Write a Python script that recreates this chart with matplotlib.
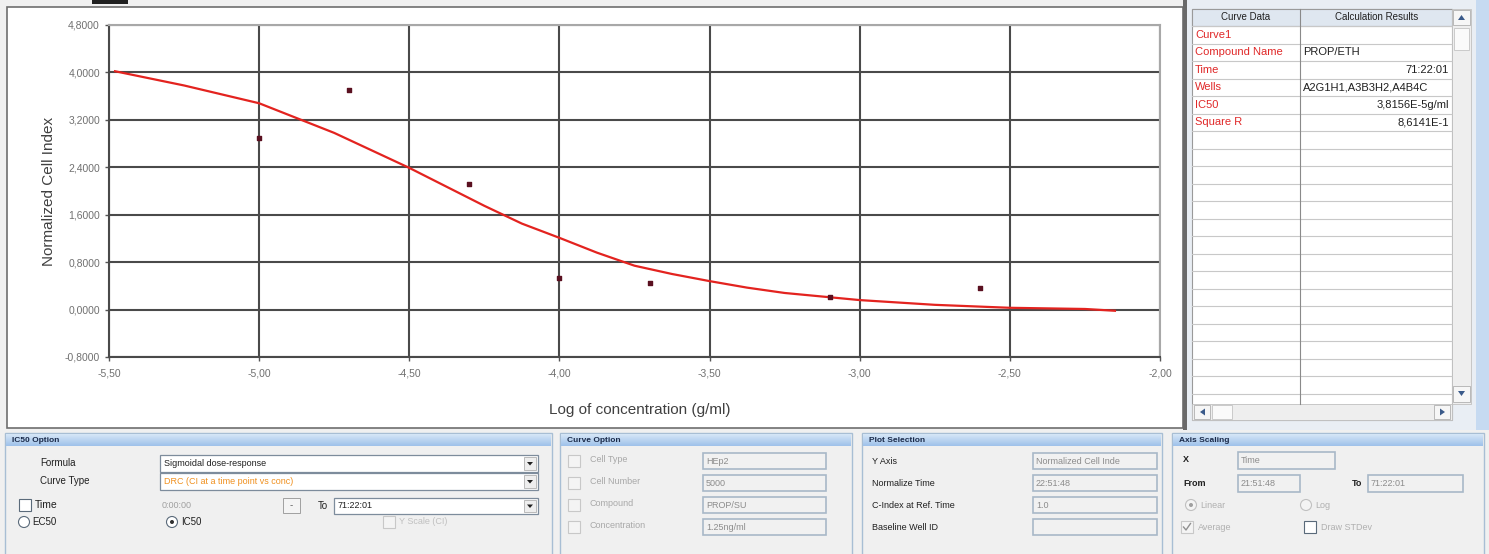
import numpy as np
import matplotlib.pyplot as plt
from matplotlib.patches import Rectangle, Circle, Polygon

plt.rcParams['font.family'] = ['Liberation Sans', 'DejaVu Sans']

# measured points (log conc, normalized cell index)
conc_log = [-5.00, -4.70, -4.30, -4.00, -3.70, -3.10, -2.60]
cell_index = [2.90, 3.70, 2.12, 0.53, 0.45, 0.21, 0.36]

# fitted sigmoid
fit_x = [-5.48, -5.25, -5.00, -4.75, -4.50, -4.25, -4.125, -4.00, -3.875, -3.75, -3.625, -3.50,
         -3.375, -3.25, -3.00, -2.75, -2.50, -2.25, -2.15]
fit_y = [4.02, 3.78, 3.48, 2.98, 2.39, 1.75, 1.45, 1.21, 0.96, 0.74, 0.60, 0.48,
         0.37, 0.28, 0.16, 0.08, 0.03, 0.01, -0.02]

x_ticks = [-5.5, -5.0, -4.5, -4.0, -3.5, -3.0, -2.5, -2.0]
y_ticks = [-0.8, 0.0, 0.8, 1.6, 2.4, 3.2, 4.0, 4.8]

table_keys = ['Curve1', 'Compound Name', 'Time', 'Wells', 'IC50', 'Square R']
table_vals = ['', 'PROP/ETH', '71:22:01', 'A2G1H1,A3B3H2,A4B4C', '3,8156E-5g/ml', '8,6141E-1']

curve_opts = ['Cell Type', 'Cell Number', 'Compound', 'Concentration']
curve_vals = ['HEp2', '5000', 'PROP/SU', '1.25ng/ml']
plot_sel = ['Y Axis', 'Normalize Time', 'C-Index at Ref. Time', 'Baseline Well ID']
plot_vals = ['Normalized Cell Inde', '22:51:48', '1.0', '']

W, H = 1489, 554
fig = plt.figure(figsize=(W / 100, H / 100), dpi=100)
fig.patch.set_facecolor('#f0f0f0')

ui = fig.add_axes([0, 0, 1, 1])
ui.set_xlim(0, W)
ui.set_ylim(H, 0)
ui.axis('off')


def box(x0, y0, x1, y1, fc='white', ec='#8a9aaa', lw=0.8, z=1):
    ui.add_patch(Rectangle((x0, y0), x1 - x0, y1 - y0, fc=fc, ec=ec, lw=lw, zorder=z))


def txt(x, y, s, size=7, color='#202020', ha='left', weight='normal', z=5):
    ui.text(x, y, s, fontsize=size, color=color, ha=ha, va='center', fontweight=weight, zorder=z)


def checkbox(x, y, checked=False, enabled=True):
    box(x, y - 6, x + 12, y + 6, fc='white' if enabled else '#f4f4f4',
        ec='#5a6a7a' if enabled else '#c8c8c8', lw=0.8, z=3)
    if checked:
        ui.plot([x + 2.5, x + 5, x + 9.5], [y, y + 3, y - 3.5], color='#909090', lw=1, zorder=4)


def radio(x, y, selected=False, enabled=True):
    ui.add_patch(Circle((x, y), 5.5, fc='white' if enabled else '#f4f4f4',
                        ec='#5a6a7a' if enabled else '#c0c0c0', lw=0.8, zorder=3))
    if selected:
        ui.add_patch(Circle((x, y), 2, fc='#303030' if enabled else '#a0a0a0', ec='none', zorder=4))


def combo(x0, y0, x1, y1, s, color='#202020'):
    box(x0, y0, x1, y1, fc='white', ec='#7d8c9c', lw=0.9, z=2)
    box(x1 - 14, y0 + 2, x1 - 2, y1 - 2, fc='#eeeeee', ec='#b0b0b0', lw=0.6, z=3)
    cx, cy = x1 - 8, (y0 + y1) / 2
    ui.add_patch(Polygon([[cx - 3, cy - 1.5], [cx + 3, cy - 1.5], [cx, cy + 2]], fc='#202020', ec='none', zorder=4))
    txt(x0 + 4, (y0 + y1) / 2, s, color=color, size=6.5)


def field(x0, y0, x1, y1, s):
    box(x0, y0, x1, y1, fc='#f1f1f1', ec='#a8b8c8', lw=1.2, z=2)
    txt(x0 + 3, (y0 + y1) / 2, s, color='#8c8c8c', size=6.5)


def group(x0, x1, title):
    box(x0, 433, x1, 560, fc='#f0f0f0', ec='#a8bed4', lw=1, z=1)
    grad = np.linspace(0, 1, 20).reshape(-1, 1)
    ui.imshow(grad, extent=(x0 + 1, x1 - 1, 446, 434), cmap=plt.matplotlib.colors.LinearSegmentedColormap.from_list(
        'hdr', ['#d6e6f7', '#9fc2ea']), aspect='auto', zorder=2)
    txt(x0 + 7, 440, title, size=6, color='#1a2a4a', weight='bold')


# chart panel
box(7, 7, 1183, 428, fc='white', ec='#6e6e6e', lw=1.2, z=0)
box(92, 0, 128, 4, fc='#202020', ec='none', z=0)

# right table panel
box(1183, 0, W, 430, fc='#e9eef4', ec='none', z=0)
box(1183, 0, 1187, 430, fc='#6a6a6a', ec='none', z=1)
box(1476, 0, W, 430, fc='#c6daf1', ec='none', z=1)
box(1192, 9, 1452, 420, fc='white', ec='#9a9a9a', lw=0.8, z=1)
box(1192, 9, 1452, 26, fc='#dfe7f0', ec='#9a9a9a', lw=0.8, z=2)
txt(1246, 17.5, 'Curve Data', size=7, ha='center')
txt(1377, 17.5, 'Calculation Results', size=7, ha='center')
ui.plot([1300, 1300], [9, 404], color='#8a8a8a', lw=0.8, zorder=3)
row_h = 17.5
y = 26
while y < 403:
    ui.plot([1192, 1452], [y, y], color='#c8c8c8', lw=0.8, zorder=2)
    y += row_h
for i, (k, v) in enumerate(zip(table_keys, table_vals)):
    yc = 26 + (i + 0.5) * row_h
    txt(1195, yc, k, size=8, color='#e02828')
    if k in ('Time', 'IC50', 'Square R'):
        txt(1449, yc, v, size=8, ha='right')
    else:
        txt(1303, yc, v, size=8)
# scrollbars
box(1452, 9, 1471, 404, fc='#eeeeee', ec='#c0c0c0', lw=0.6, z=2)
box(1453, 10, 1470, 25, fc='#f6f6f6', ec='#b0b0b0', lw=0.6, z=3)
ui.add_patch(Polygon([[1458, 20], [1465, 20], [1461.5, 15]], fc='#3a5a8a', ec='none', zorder=4))
box(1454, 28, 1469, 50, fc='#fafafa', ec='#c4c4c4', lw=0.6, z=3)
box(1453, 386, 1470, 402, fc='#f6f6f6', ec='#b0b0b0', lw=0.6, z=3)
ui.add_patch(Polygon([[1458, 391], [1465, 391], [1461.5, 396]], fc='#3a5a8a', ec='none', zorder=4))
box(1192, 404, 1452, 420, fc='#eeeeee', ec='#c0c0c0', lw=0.6, z=2)
box(1194, 405, 1210, 419, fc='#f6f6f6', ec='#b0b0b0', lw=0.6, z=3)
ui.add_patch(Polygon([[1205, 408.5], [1205, 415.5], [1200, 412]], fc='#3a5a8a', ec='none', zorder=4))
box(1212, 405, 1232, 419, fc='#fafafa', ec='#c4c4c4', lw=0.6, z=3)
box(1434, 405, 1450, 419, fc='#f6f6f6', ec='#b0b0b0', lw=0.6, z=3)
ui.add_patch(Polygon([[1440, 408.5], [1440, 415.5], [1445, 412]], fc='#3a5a8a', ec='none', zorder=4))

# bottom option groups
group(5, 552, 'IC50 Option')
txt(40, 463, 'Formula')
combo(160, 455, 538, 472, 'Sigmoidal dose-response')
txt(40, 481, 'Curve Type')
combo(160, 473, 538, 490, 'DRC (CI at a time point vs conc)', color='#f0901e')
checkbox(19, 505)
txt(35, 505, 'Time', size=7.5)
txt(162, 506, '0:00:00', color='#a0a0a0', size=6.5)
box(283, 498, 300, 513, fc='#f4f4f4', ec='#a0a0a0', lw=0.7, z=2)
txt(291.5, 505, '-', size=7, ha='center', color='#606060')
txt(318, 506, 'To')
combo(334, 498, 538, 514, '71:22:01')
radio(24, 522)
txt(32, 522, 'EC50', size=7)
radio(172, 522, selected=True)
txt(181, 522, 'IC50', size=7)
checkbox(383, 522, enabled=False)
txt(399, 522, 'Y Scale (CI)', color='#c0c0c0', size=6.5)

group(560, 852, 'Curve Option')
for i, (k, v) in enumerate(zip(curve_opts, curve_vals)):
    yc = 461 + i * 22
    checkbox(568, yc, enabled=False)
    txt(590, yc - 2, k, color='#a8a8a8', size=6.5)
    field(703, yc - 8, 826, yc + 8, v)

group(862, 1162, 'Plot Selection')
for i, (k, v) in enumerate(zip(plot_sel, plot_vals)):
    yc = 461 + i * 22
    txt(872, yc, k, size=6.5)
    field(1033, yc - 8, 1157, yc + 8, v)

group(1172, 1484, 'Axis Scaling')
txt(1183, 460, 'X', size=6.5, weight='bold')
field(1238, 452, 1335, 469, 'Time')
txt(1183, 483, 'From', size=6.5, weight='bold')
field(1238, 475, 1300, 492, '21:51:48')
txt(1352, 483, 'To', size=6.5, weight='bold')
field(1368, 475, 1463, 492, '71:22:01')
radio(1191, 505, selected=True, enabled=False)
txt(1200, 505, 'Linear', color='#b0b0b0', size=6.5)
radio(1306, 505, enabled=False)
txt(1315, 505, 'Log', color='#b0b0b0', size=6.5)
checkbox(1181, 527, checked=True, enabled=False)
txt(1198, 527, 'Average', color='#b0b0b0', size=6.5)
checkbox(1304, 527)
txt(1321, 527, 'Draw STDev', color='#b0b0b0', size=6.5)

# the dose-response chart
ax = fig.add_axes([109 / W, 1 - 357 / H, (1160 - 109) / W, (357 - 25) / H])
ax.set_xlim(-5.5, -2.0)
ax.set_ylim(-0.8, 4.8)
ax.set_xticks(x_ticks)
ax.set_xticklabels([f"{v:.2f}".replace('.', ',') for v in x_ticks])
ax.set_yticks(y_ticks)
ax.set_yticklabels([f"{v:.4f}".replace('.', ',') for v in y_ticks])
ax.grid(True, color='#4a4a4a', lw=1.5)
ax.set_axisbelow(True)
ax.tick_params(direction='out', length=3, width=1, color='#555555', labelsize=7.5, labelcolor='#707070')
ax.tick_params(axis='x', pad=5)
for s in ('left', 'bottom'):
    ax.spines[s].set_color('#4a4a4a')
    ax.spines[s].set_linewidth(1.5)
for s in ('top', 'right'):
    ax.spines[s].set_color('#a8a8a8')
    ax.spines[s].set_linewidth(1.5)

ax.plot(fit_x, fit_y, color='#e3231f', lw=1.6, zorder=3)
ax.scatter(conc_log, cell_index, marker='s', s=12, color='#5a1020', zorder=4)

ax.set_ylabel('Normalized Cell Index', fontsize=11, color='#404040')
ax.yaxis.set_label_coords(-0.05, 0.5)
ax.set_xlabel('Log of concentration (g/ml)', fontsize=11, color='#404040')
ax.xaxis.set_label_coords(0.505, -0.14)

fig.savefig('out.png', dpi=100, facecolor=fig.get_facecolor())
